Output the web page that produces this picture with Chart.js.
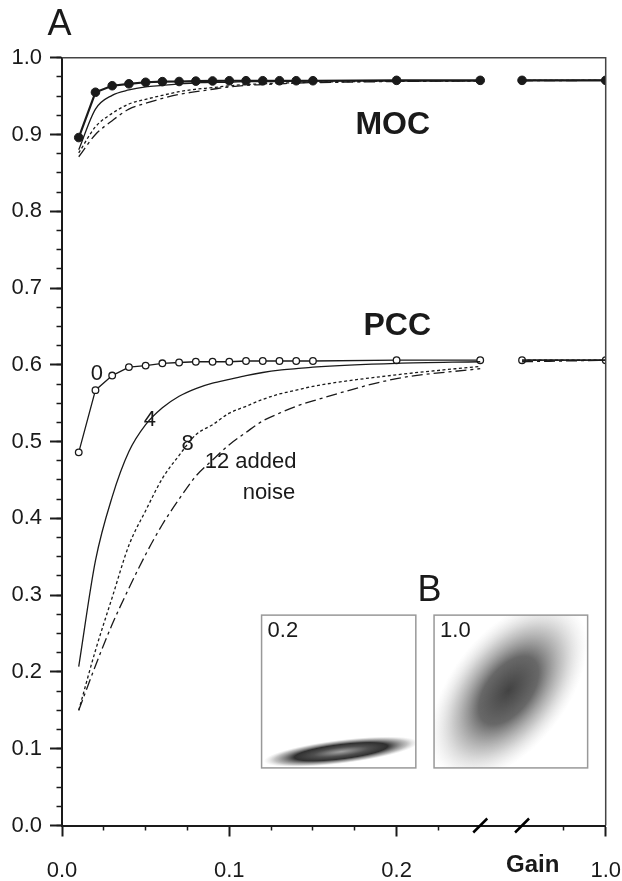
<!DOCTYPE html>
<html>
<head>
<meta charset="utf-8">
<script src="https://cdn.jsdelivr.net/npm/chart.js@4/dist/chart.umd.min.js"></script>
<style>
  html, body { margin: 0; padding: 0; background: #fff; }
  #wrap { width: 622px; height: 881px; }
</style>
</head>
<body>
<div id="wrap"><canvas id="chart" width="622" height="881"></canvas></div>
<script>
// gain values (last two sit after the axis break)
const gains = [0.01, 0.02, 0.03, 0.04, 0.05, 0.06, 0.07, 0.08, 0.09, 0.10,
               0.11, 0.12, 0.13, 0.14, 0.15, 0.20, 0.25, 0.95, 1.0];

// MOC, by added noise
const mocNoise0  = [0.896, 0.955, 0.9635, 0.966, 0.968, 0.9688, 0.969, 0.9695, 0.9697, 0.970,
                    0.970, 0.970, 0.970, 0.970, 0.970, 0.9705, 0.9705, 0.9705, 0.9705];
const mocNoise4  = [0.880, 0.933, 0.951, 0.958, 0.962, 0.964, 0.966, 0.967, 0.968, 0.968,
                    0.969, 0.969, 0.969, 0.9695, 0.9695, 0.970, 0.970, 0.9705, 0.9705];
const mocNoise8  = [0.876, 0.910, 0.9275, 0.9397, 0.9458, 0.951, 0.9557, 0.9589, 0.961, 0.9635,
                    0.965, 0.966, 0.967, 0.9675, 0.968, 0.9695, 0.970, 0.9705, 0.9705];
const mocNoise12 = [0.871, 0.900, 0.918, 0.933, 0.9406, 0.947, 0.9523, 0.9557, 0.9589, 0.962,
                    0.964, 0.965, 0.966, 0.967, 0.9675, 0.969, 0.970, 0.970, 0.9705];

// PCC, by added noise
const pccNoise0  = [0.486, 0.567, 0.586, 0.597, 0.599, 0.602, 0.603, 0.604, 0.604, 0.604,
                    0.605, 0.605, 0.605, 0.605, 0.605, 0.606, 0.606, 0.606, 0.606];
const pccNoise4  = [0.207, 0.345, 0.428, 0.487, 0.522, 0.544, 0.559, 0.569, 0.576, 0.581,
                    0.586, 0.590, 0.593, 0.595, 0.597, 0.602, 0.604, 0.606, 0.606];
const pccNoise8  = [0.150, 0.228, 0.297, 0.365, 0.410, 0.452, 0.482, 0.509, 0.522, 0.537,
                    0.546, 0.555, 0.562, 0.567, 0.572, 0.587, 0.598, 0.606, 0.606];
const pccNoise12 = [0.150, 0.208, 0.262, 0.309, 0.353, 0.392, 0.425, 0.455, 0.476, 0.496,
                    0.512, 0.527, 0.537, 0.546, 0.553, 0.582, 0.595, 0.604, 0.606];

// axis ticks (in gain units)
const xMajorTicks  = [0, 0.1, 0.2, 1.0];
const xMajorLabels = ['0.0', '0.1', '0.2', '1.0'];
const xMinorTicks  = [0.025, 0.05, 0.075, 0.125, 0.15, 0.175, 0.225, 0.975];

// axis break: gains between 0.25 and 0.95 are cut out
const BREAK_FROM = 0.25, BREAK_TO = 0.95, BREAK_GAP = 0.025;
function axisX(g) {
  return g > BREAK_FROM ? g - (BREAK_TO - BREAK_FROM - BREAK_GAP) : g;
}

function series(vals) {
  const pts = [];
  gains.forEach((g, i) => {
    if (i > 0 && g > BREAK_FROM && gains[i - 1] <= BREAK_FROM) {
      pts.push({ x: BREAK_FROM + BREAK_GAP / 2, y: null });
    }
    pts.push({ x: axisX(g), y: vals[i] });
  });
  return pts;
}

const INK = '#1a1a1a';
const FONT = '"Liberation Sans", Arial, Helvetica, sans-serif';

function noiseLine(vals, dash) {
  return {
    data: series(vals),
    showLine: true,
    borderColor: INK,
    borderWidth: 1.3,
    borderDash: dash,
    pointRadius: 0,
    cubicInterpolationMode: 'monotone',
    spanGaps: false
  };
}

// text placed in chart units
const notes = [
  { text: 'A',        x: -0.0015, y: 1.042,  size: 36 },
  { text: 'MOC',      x: 0.1977,  y: 0.9117, size: 32, bold: true },
  { text: 'PCC',      x: 0.2004,  y: 0.6506, size: 32, bold: true },
  { text: '0',        x: 0.0209,  y: 0.5887, size: 22 },
  { text: '4',        x: 0.0525,  y: 0.5288, size: 22 },
  { text: '8',        x: 0.0751,  y: 0.4969, size: 22 },
  { text: '12 added', x: 0.0853,  y: 0.4734, size: 22, align: 'left' },
  { text: 'noise',    x: 0.1237,  y: 0.4331, size: 22 },
  { text: 'B',        x: 0.2197,  y: 0.3048, size: 36 },
  { text: 'Gain',     x: 0.2814,  y: -0.0514, size: 24, bold: true }
];

// inset panels (B): box extents in chart units
const insets = [
  { label: '0.2', x0: 0.1193, x1: 0.2115, y0: 0.075, y1: 0.274,
    cx: 0.1668, cy: 0.0961, rx: 78, ry: 12, rot: -7,
    stops: [[0, 'rgba(150,150,150,0.9)'], [0.35, 'rgba(70,70,70,0.95)'], [0.6, 'rgba(25,25,25,0.9)'],
            [0.85, 'rgba(100,100,100,0.4)'], [1, 'rgba(180,180,180,0)']] },
  { label: '1.0', x0: 0.2224, x1: 0.3142, y0: 0.075, y1: 0.274,
    cx: 0.2670, cy: 0.1760, rx: 104, ry: 58, rot: -52,
    stops: [[0, 'rgba(25,25,25,0.82)'], [0.38, 'rgba(40,40,40,0.7)'], [0.7, 'rgba(95,95,95,0.33)'],
            [1, 'rgba(180,180,180,0)']] }
];

const decor = {
  id: 'decor',
  afterDraw(chart) {
    const ctx = chart.ctx;
    const xs = chart.scales.x, ys = chart.scales.y;
    const a = chart.chartArea;
    ctx.save();

    // frame top / right
    ctx.strokeStyle = '#444';
    ctx.lineWidth = 1.5;
    ctx.beginPath();
    ctx.moveTo(a.left, a.top);
    ctx.lineTo(a.right, a.top);
    ctx.lineTo(a.right, a.bottom);
    ctx.stroke();

    // axis break marks
    ctx.strokeStyle = '#000';
    ctx.lineWidth = 2.5;
    [BREAK_FROM, BREAK_FROM + BREAK_GAP].forEach(v => {
      const px = xs.getPixelForValue(v);
      ctx.beginPath();
      ctx.moveTo(px - 7, a.bottom + 7);
      ctx.lineTo(px + 7, a.bottom - 7);
      ctx.stroke();
    });

    // inset panels
    insets.forEach(b => {
      const l = xs.getPixelForValue(b.x0), r = xs.getPixelForValue(b.x1);
      const t = ys.getPixelForValue(b.y1), btm = ys.getPixelForValue(b.y0);
      ctx.save();
      ctx.beginPath();
      ctx.rect(l, t, r - l, btm - t);
      ctx.clip();
      ctx.translate(xs.getPixelForValue(b.cx), ys.getPixelForValue(b.cy));
      ctx.rotate(b.rot * Math.PI / 180);
      ctx.scale(b.rx, b.ry);
      const grd = ctx.createRadialGradient(0, 0, 0, 0, 0, 1);
      b.stops.forEach(s => grd.addColorStop(s[0], s[1]));
      ctx.fillStyle = grd;
      ctx.beginPath();
      ctx.arc(0, 0, 1, 0, Math.PI * 2);
      ctx.fill();
      ctx.restore();

      ctx.strokeStyle = '#999';
      ctx.lineWidth = 1.5;
      ctx.strokeRect(l, t, r - l, btm - t);
      ctx.fillStyle = INK;
      ctx.font = '22px ' + FONT;
      ctx.textAlign = 'left';
      ctx.textBaseline = 'middle';
      ctx.fillText(b.label, l + 6, t + 16);
    });

    // text notes
    notes.forEach(n => {
      ctx.fillStyle = INK;
      ctx.font = (n.bold ? 'bold ' : '') + n.size + 'px ' + FONT;
      ctx.textAlign = n.align || 'center';
      ctx.textBaseline = 'middle';
      ctx.fillText(n.text, xs.getPixelForValue(n.x), ys.getPixelForValue(n.y));
    });
    ctx.restore();
  }
};

new Chart(document.getElementById('chart'), {
  type: 'scatter',
  data: {
    datasets: [
      noiseLine(mocNoise12, [11, 4, 3, 4]),
      noiseLine(mocNoise8, [3, 2.5]),
      noiseLine(mocNoise4, []),
      {
        data: series(mocNoise0), showLine: true, borderColor: INK, borderWidth: 2.2,
        pointRadius: 4.3, pointBackgroundColor: INK, pointBorderColor: INK, pointBorderWidth: 1
      },
      noiseLine(pccNoise12, [11, 4, 3, 4]),
      noiseLine(pccNoise8, [3, 2.5]),
      noiseLine(pccNoise4, []),
      {
        data: series(pccNoise0), showLine: true, borderColor: INK, borderWidth: 1.3,
        pointRadius: 3.3, pointBackgroundColor: '#fff', pointBorderColor: INK, pointBorderWidth: 1.3
      }
    ]
  },
  options: {
    responsive: false,
    animation: false,
    events: [],
    layout: { padding: { left: 0, top: 57.7, right: 16.3, bottom: 0 } },
    plugins: { legend: { display: false }, tooltip: { enabled: false } },
    scales: {
      x: {
        type: 'linear', position: 'bottom', weight: 1,
        min: 0, max: axisX(1.0),
        afterBuildTicks: s => { s.ticks = xMajorTicks.map(g => ({ value: axisX(g) })); },
        afterFit: s => { s.height = 55.5; s.paddingLeft = 0; s.paddingRight = 0; },
        ticks: {
          autoSkip: false, maxRotation: 0, padding: 21, color: INK,
          font: { family: FONT, size: 22 },
          callback: (v, i) => xMajorLabels[i]
        },
        grid: { drawOnChartArea: false, tickLength: 11, tickColor: INK, tickWidth: 2 },
        border: { display: true, color: INK, width: 2 }
      },
      xMinor: {
        type: 'linear', position: 'bottom', weight: 0,
        min: 0, max: axisX(1.0),
        afterBuildTicks: s => { s.ticks = xMinorTicks.map(g => ({ value: axisX(g) })); },
        afterFit: s => { s.height = 0; s.paddingLeft = 0; s.paddingRight = 0; },
        ticks: { display: false },
        grid: { drawOnChartArea: false, tickLength: 5, tickColor: INK, tickWidth: 1.5 },
        border: { display: false }
      },
      y: {
        type: 'linear', position: 'left', weight: 1,
        min: 0, max: 1,
        afterFit: s => { s.width = 62; s.paddingTop = 0; s.paddingBottom = 0; },
        ticks: {
          stepSize: 0.1, padding: 8, color: INK,
          font: { family: FONT, size: 22 },
          callback: v => v.toFixed(1)
        },
        grid: { drawOnChartArea: false, tickLength: 12, tickColor: INK, tickWidth: 2 },
        border: { display: true, color: INK, width: 2 }
      },
      yMinor: {
        type: 'linear', position: 'left', weight: 0,
        min: 0, max: 1,
        afterFit: s => { s.width = 0; s.paddingTop = 0; s.paddingBottom = 0; },
        ticks: { display: false, stepSize: 0.025 },
        grid: { drawOnChartArea: false, tickLength: 5.5, tickColor: INK, tickWidth: 1.5 },
        border: { display: false }
      }
    }
  },
  plugins: [decor]
});
</script>
</body>
</html>
